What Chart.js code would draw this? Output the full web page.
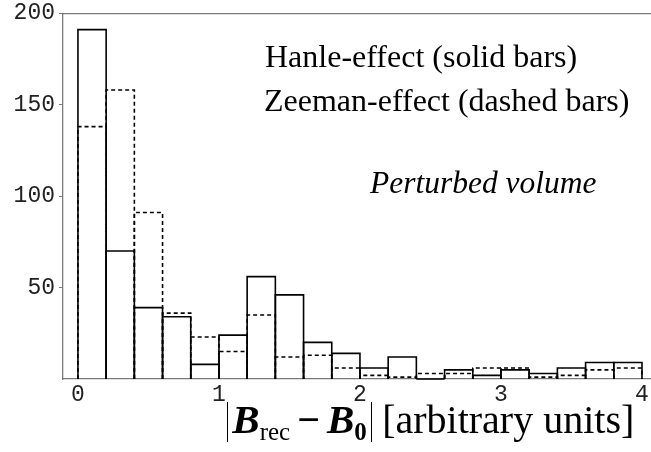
<!DOCTYPE html>
<html><head><meta charset="utf-8">
<script src="https://cdn.jsdelivr.net/npm/chart.js@4/dist/chart.umd.min.js"></script>
<style>
html,body{margin:0;padding:0;background:#fff;}
#wrap{position:relative;width:651px;height:452px;overflow:hidden;background:#fff;}
#c{position:absolute;left:0;top:0;}
.note{position:absolute;font-family:"Liberation Serif","Times New Roman",serif;font-size:32px;color:#000;white-space:nowrap;line-height:1;}
.vb{display:inline-block;width:1.3px;height:40px;background:#000;vertical-align:-9px;}
.bi{font-weight:bold;font-style:italic;font-size:41px;}
.sub{font-size:25px;vertical-align:-7px;}
.minus{font-weight:bold;margin:0 7px;}
</style></head><body>
<div id="wrap">
<canvas id="c" width="651" height="452"></canvas>
<div class="note" style="left:265px;top:40px">Hanle-effect (solid bars)</div>
<div class="note" style="left:264px;top:84px">Zeeman-effect (dashed bars)</div>
<div class="note" style="left:370px;top:167px;font-size:31.5px;font-style:italic">Perturbed volume</div>
<div class="note" style="left:227px;top:399px;font-size:40px"><span class="vb" style="margin-right:4px"></span><span class="bi">B</span><span class="sub">rec</span><span class="minus">−</span><span class="bi">B</span><span class="sub" style="font-weight:bold">0</span><span class="vb" style="margin-left:4px"></span> [arbitrary units]</div>
</div>
<script>
// Histogram bin centres (bin width 0.2)
const binCenters = [0.1, 0.3, 0.5, 0.7, 0.9, 1.1, 1.3, 1.5, 1.7, 1.9,
                    2.1, 2.3, 2.5, 2.7, 2.9, 3.1, 3.3, 3.5, 3.7, 3.9];
// Hanle-effect counts (solid bars)
const hanleCounts = [191, 70, 39, 34, 8, 24, 56, 46, 20, 14,
                     6, 12, 0, 5, 2, 5, 3, 6, 9, 9];
// Zeeman-effect counts (dashed bars)
const zeemanCounts = [138, 158, 91, 36, 23, 15, 35, 12, 13, 6,
                      2, 1, 3, 3, 6, 6, 1, 2, 5, 6];
const xTickValues = [0, 1, 2, 3, 4];
const yTickValues = [50, 100, 150, 200];

const histStroke = {
  id: 'histStroke',
  afterDatasetsDraw(chart) {
    const ctx = chart.ctx;
    const a = chart.chartArea;
    ctx.save();
    ctx.beginPath();
    ctx.rect(a.left, a.top - 2, a.right - a.left + 2, a.bottom - a.top + 3);
    ctx.clip();
    chart.data.datasets.forEach((ds, i) => {
      const meta = chart.getDatasetMeta(i);
      ctx.setLineDash(ds.dashed ? [4, 3] : []);
      ctx.lineWidth = 1.6;
      ctx.strokeStyle = '#000';
      meta.data.forEach(bar => {
        const p = bar.getProps(['x', 'y', 'base', 'width'], true);
        const l = p.x - p.width / 2, r = p.x + p.width / 2;
        ctx.beginPath();
        ctx.moveTo(l, p.base);
        ctx.lineTo(l, p.y);
        ctx.lineTo(r, p.y);
        ctx.lineTo(r, p.base);
        ctx.stroke();
      });
    });
    ctx.restore();
  }
};

const axisGrey = '#7a7a7a';
new Chart(document.getElementById('c'), {
  type: 'bar',
  data: {
    datasets: [
      { label: 'Zeeman-effect (dashed bars)', dashed: true,
        data: binCenters.map((x, i) => ({ x: x, y: zeemanCounts[i] })),
        backgroundColor: 'rgba(0,0,0,0)', borderWidth: 0 },
      { label: 'Hanle-effect (solid bars)', dashed: false,
        data: binCenters.map((x, i) => ({ x: x, y: hanleCounts[i] })),
        backgroundColor: 'rgba(0,0,0,0)', borderWidth: 0 }
    ]
  },
  options: {
    responsive: false,
    animation: false,
    devicePixelRatio: 1,
    layout: { padding: { top: 11, right: 0, left: 0, bottom: 0 } },
    plugins: { legend: { display: false }, tooltip: { enabled: false } },
    datasets: { bar: { grouped: false, barPercentage: 1, categoryPercentage: 1 } },
    scales: {
      x: {
        type: 'linear', min: -0.106, max: 4.064, offset: false,
        afterBuildTicks: s => { s.ticks = xTickValues.map(v => ({ value: v })); },
        ticks: { font: { family: 'Liberation Mono', size: 23 }, color: '#222', padding: 2, maxRotation: 0, autoSkip: false },
        grid: { drawOnChartArea: false, drawTicks: false },
        border: { color: axisGrey, width: 1.3 },
        afterFit: s => { s.height = 73; }
      },
      xTop: {
        type: 'linear', position: 'top', min: -0.106, max: 4.064,
        ticks: { display: false },
        grid: { drawOnChartArea: false, drawTicks: false },
        border: { color: axisGrey, width: 1.3 },
        afterFit: s => { s.height = 0; }
      },
      y: {
        min: 0, max: 200,
        afterBuildTicks: s => { s.ticks = yTickValues.map(v => ({ value: v })); },
        ticks: { font: { family: 'Liberation Mono', size: 23, lineHeight: 0.8 }, color: '#222', padding: 4 },
        grid: { drawOnChartArea: false, drawTicks: true, tickLength: 4, color: axisGrey },
        border: { color: axisGrey, width: 1.3 },
        afterFit: s => { s.width = 63; }
      }
    }
  },
  plugins: [histStroke]
});
</script>
</body></html>
